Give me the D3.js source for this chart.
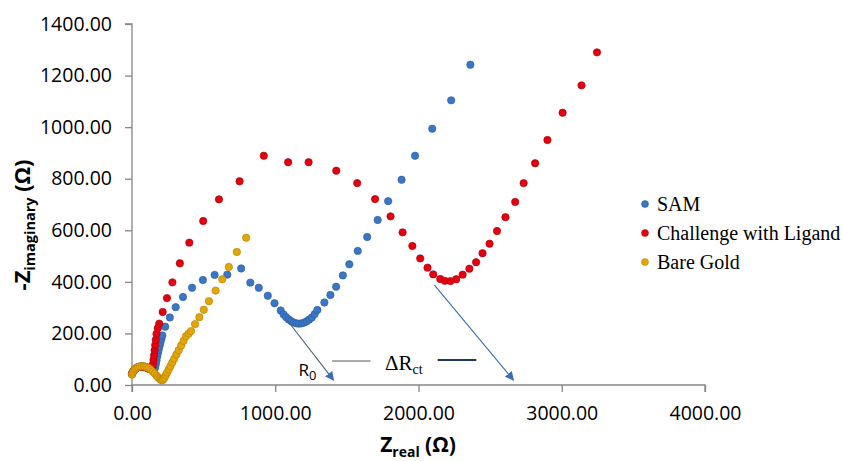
<!DOCTYPE html>
<html>
<head>
<meta charset="utf-8">
<script src="https://cdn.jsdelivr.net/npm/d3@7"></script>
<style>
  body { margin: 0; background: #fff; }
  svg text { fill: #000; }
</style>
</head>
<body>
<svg id="chart" width="842" height="461"></svg>
<script>
// Nyquist data: [Zreal, -Zimag] in ohms
const sam = [
  [0, 42], [6, 50], [14, 57], [24, 63], [36, 68], [50, 71], [65, 72], [80, 72],
  [95, 70], [110, 67], [125, 63], [140, 60], [152, 60], [160, 66], [166, 80],
  [171, 95], [176, 110], [181, 124], [186, 137], [192, 150], [198, 163],
  [205, 177], [212, 192], [232, 226], [264, 262], [305, 302], [356, 341],
  [419, 377], [495, 407], [577, 427], [665, 428], [762, 452], [826, 397],
  [885, 377], [948, 346], [995, 317], [1038, 289], [1058, 274], [1076, 263],
  [1094, 254], [1112, 247], [1130, 242], [1148, 239], [1166, 238], [1184, 239],
  [1202, 242], [1220, 247], [1238, 254], [1256, 262], [1275, 275], [1294, 291],
  [1343, 320], [1385, 349], [1425, 381], [1472, 425], [1517, 468], [1576, 520],
  [1642, 574], [1715, 640], [1788, 713], [1882, 796], [1976, 889], [2096, 994],
  [2228, 1104], [2362, 1242]
];

const ligand = [
  [0, 45], [8, 53], [18, 60], [30, 65], [44, 69], [60, 71], [76, 71], [92, 69],
  [106, 66], [120, 62], [132, 60], [140, 65], [146, 80], [150, 97], [154, 115],
  [158, 135], [162, 155], [166, 175], [171, 198], [180, 220], [190, 238],
  [214, 283], [244, 337], [282, 398], [334, 472], [400, 552], [497, 636],
  [607, 720], [751, 790], [920, 889], [1090, 864], [1233, 864], [1426, 831],
  [1572, 783], [1697, 721], [1805, 654], [1889, 592], [1957, 539], [2012, 491],
  [2063, 455], [2103, 429], [2152, 411], [2184, 404], [2223, 403], [2263, 410],
  [2308, 428], [2355, 451], [2402, 476], [2447, 511], [2496, 548], [2548, 597],
  [2607, 651], [2675, 710], [2734, 783], [2814, 860], [2900, 950], [3006, 1056],
  [3138, 1162], [3246, 1290]
];

const bareGold = [
  [0, 40], [5, 48], [12, 55], [20, 61], [30, 66], [42, 70], [55, 72], [70, 73],
  [85, 72], [100, 70], [115, 66], [130, 60], [145, 52], [160, 44], [172, 36],
  [183, 29], [193, 24], [202, 20], [210, 18], [218, 21], [226, 28], [235, 37],
  [245, 48], [256, 60], [268, 73], [281, 87], [295, 102], [310, 118], [326, 135],
  [343, 153], [360, 171], [377, 189], [395, 199], [412, 209], [440, 236],
  [470, 263], [501, 292], [537, 325], [584, 366], [630, 410], [676, 458],
  [732, 516], [797, 571]
];

const seriesNames = ['SAM', 'Challenge with Ligand', 'Bare Gold'];
const seriesColors = ['#3a76c6', '#e3000f', '#e4a507'];
const seriesStrokes = ['#285a9c', '#a8000a', '#b07f00'];

const xTicks = [0, 1000, 2000, 3000, 4000];
const yTicks = [0, 200, 400, 600, 800, 1000, 1200, 1400];

// annotation arrows: [from, to] in data units
const arrows = [
  [[1078, 255], [1407, 19]],
  [[2110, 388], [2663, 19]]
];

const svg = d3.select('#chart');

const x = d3.scaleLinear().domain([0, 4000]).range([132, 705]);
const y = d3.scaleLinear().domain([0, 1400]).range([385, 24]);

const axisColor = '#868686';
const tickFont = '"Open Sans", sans-serif';

// y axis
const yAxis = svg.append('g')
  .attr('transform', `translate(${x(0)},0)`)
  .call(d3.axisLeft(y).tickValues(yTicks).tickSize(7).tickPadding(13)
    .tickFormat(d3.format('.2f')));
yAxis.select('.domain').attr('stroke', axisColor).attr('stroke-width', 1.3)
  .attr('d', `M-7,${y(1400)}H0V${y(0)}`);
yAxis.selectAll('.tick line').attr('stroke', axisColor).attr('stroke-width', 1.3);
yAxis.selectAll('.tick text').attr('font-family', tickFont).attr('font-size', 19.5)
  .attr('fill', '#111');

// x axis
const xAxis = svg.append('g')
  .attr('transform', `translate(0,${y(0)})`)
  .call(d3.axisBottom(x).tickValues(xTicks).tickSize(7).tickPadding(14)
    .tickFormat(d3.format('.2f')));
xAxis.select('.domain').attr('stroke', axisColor).attr('stroke-width', 1.3)
  .attr('d', `M${x(0)},7V0H${x(4000)}V7`);
xAxis.selectAll('.tick line').attr('stroke', axisColor).attr('stroke-width', 1.3);
xAxis.selectAll('.tick text').attr('font-family', tickFont).attr('font-size', 19.5)
  .attr('fill', '#111');

// axis titles
const xTitle = svg.append('text')
  .attr('x', 418).attr('y', 452)
  .attr('text-anchor', 'middle')
  .attr('font-family', tickFont).attr('font-weight', 'bold').attr('font-size', 21);
xTitle.append('tspan').text('Z');
xTitle.append('tspan').attr('font-size', 14).attr('dy', 5).text('real');
xTitle.append('tspan').attr('dy', -5).text(' (Ω)');

const yTitle = svg.append('text')
  .attr('transform', 'translate(30,225) rotate(-90)')
  .attr('text-anchor', 'middle')
  .attr('font-family', tickFont).attr('font-weight', 'bold').attr('font-size', 22);
yTitle.append('tspan').text('-Z');
yTitle.append('tspan').attr('font-size', 14.5).attr('dy', 5).text('imaginary');
yTitle.append('tspan').attr('dy', -5).text(' (Ω)');

// series points, drawn in legend order so red sits over blue, gold on top
const allSeries = [sam, ligand, bareGold];
allSeries.forEach((pts, i) => {
  svg.append('g')
    .selectAll('circle')
    .data(pts)
    .enter()
    .append('circle')
    .attr('cx', d => x(d[0]))
    .attr('cy', d => y(d[1]))
    .attr('r', 3.7)
    .attr('fill', seriesColors[i])
    .attr('stroke', seriesStrokes[i])
    .attr('stroke-width', 0.6);
});

// arrows
svg.append('defs').append('marker')
  .attr('id', 'head')
  .attr('viewBox', '0 0 10 10')
  .attr('refX', 9).attr('refY', 5)
  .attr('markerWidth', 9).attr('markerHeight', 9)
  .attr('markerUnits', 'userSpaceOnUse')
  .attr('orient', 'auto')
  .append('path')
  .attr('d', 'M0,0L10,5L0,10Z')
  .attr('fill', '#3a6db5');

svg.append('g')
  .selectAll('line')
  .data(arrows)
  .enter()
  .append('line')
  .attr('x1', d => x(d[0][0])).attr('y1', d => y(d[0][1]))
  .attr('x2', d => x(d[1][0])).attr('y2', d => y(d[1][1]))
  .attr('stroke', (d, i) => (i === 0 ? '#4a5f80' : '#3a6db5'))
  .attr('stroke-width', 1.1)
  .attr('marker-end', 'url(#head)');

// ΔRct bracket lines
svg.append('line')
  .attr('x1', x(1397)).attr('x2', x(1665)).attr('y1', y(93)).attr('y2', y(93))
  .attr('stroke', '#555').attr('stroke-width', 1);
svg.append('line')
  .attr('x1', x(2134)).attr('x2', x(2404)).attr('y1', y(97)).attr('y2', y(97))
  .attr('stroke', '#1f3864').attr('stroke-width', 2);

const dR = svg.append('text')
  .attr('x', x(1898)).attr('y', y(58))
  .attr('text-anchor', 'middle')
  .attr('font-family', '"Liberation Serif", serif').attr('font-size', 21)
  .attr('fill', '#222');
dR.append('tspan').text('ΔR');
dR.append('tspan').attr('font-size', 14).attr('dy', 4).text('ct');

const r0 = svg.append('text')
  .attr('x', x(1162)).attr('y', y(35))
  .attr('font-family', tickFont).attr('font-size', 17);
r0.append('tspan').text('R');
r0.append('tspan').attr('font-size', 13).attr('dy', 4).text('0');

// legend
const legend = svg.append('g')
  .selectAll('g')
  .data(seriesNames)
  .enter()
  .append('g')
  .attr('transform', (d, i) => `translate(645,${204 + i * 29})`);
legend.append('circle')
  .attr('r', 3.5)
  .attr('fill', (d, i) => seriesColors[i])
  .attr('stroke', (d, i) => seriesStrokes[i])
  .attr('stroke-width', 0.5);
legend.append('text')
  .attr('x', 12).attr('y', 7)
  .attr('font-family', '"Liberation Serif", serif').attr('font-size', 20)
  .text(d => d);
</script>
</body>
</html>
